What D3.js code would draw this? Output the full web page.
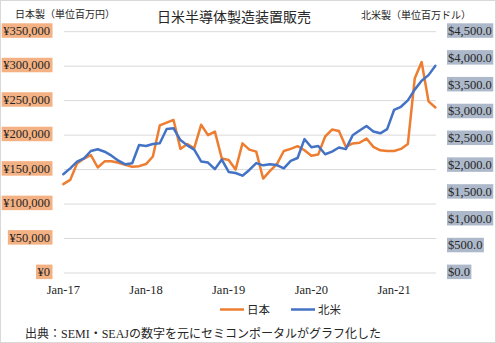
<!DOCTYPE html>
<html><head><meta charset="utf-8">
<script src="https://cdn.jsdelivr.net/npm/d3@7"></script>
<style>
html,body{margin:0;padding:0;background:#fff;}
svg{display:block;}
text{fill:#262626;}
</style></head>
<body>
<script>
// ---- data ----
const months = d3.timeMonth.range(new Date(2017,0,1), new Date(2021,7,1)); // Jan-17 .. Jul-21
const japan = [129000,135000,159000,166000,171000,153000,162000,162000,160000,157000,
  154000,155000,158000,169000,214000,218000,222000,180000,187000,181000,
  215000,200000,205000,166000,164000,150000,188000,179000,176000,137000,
  148000,158000,177000,180000,184000,178000,170000,172000,198000,208000,
  206000,183000,188000,189000,195000,183000,178000,177000,177000,180000,
  187000,282000,306000,249000,240000];
const northAmerica = [1841,1952,2076,2139,2275,2307,2262,2188,2095,2027,
  2046,2387,2369,2406,2419,2686,2699,2480,2380,2300,
  2080,2060,1937,2115,1885,1865,1815,1921,2050,2008,
  2030,2014,1952,2090,2145,2496,2345,2369,2215,2265,
  2340,2310,2568,2658,2742,2640,2605,2683,3040,3100,
  3220,3420,3585,3690,3865];
const leftTicks = [0,50000,100000,150000,200000,250000,300000,350000];
const rightTicks = [0,500,1000,1500,2000,2500,3000,3500,4000,4500];
const xTickMonths = [new Date(2017,0,1),new Date(2018,0,1),new Date(2019,0,1),new Date(2020,0,1),new Date(2021,0,1)];
const seriesNames = ["日本","北米"];
const title = "日米半導体製造装置販売";
const leftTitle = "日本製（単位百万円）";
const rightTitle = "北米製（単位百万ドル）";
const source = "出典：SEMI・SEAJの数字を元にセミコンポータルがグラフ化した";

// ---- layout ----
const W = 496, H = 343;
const serif = '"Liberation Serif","Noto Sans CJK JP",serif';
const cjk = '"Liberation Serif","Noto Sans CJK JP",sans-serif';
const svg = d3.select("body").append("svg").attr("width", W).attr("height", H);

svg.append("rect").attr("x",0.5).attr("y",0.5).attr("width",W-1).attr("height",H-1)
  .attr("fill","#fff").attr("stroke","#d9d9d9");

const x = d3.scalePoint().domain(months.map(d=>+d)).range([63.3, 435.4]);
const yL = d3.scaleLinear().domain([0,350000]).range([273, 31.7]);
const yR = d3.scaleLinear().domain([0,4500]).range([273, 31.7]);

// gridlines
svg.append("g").selectAll("line").data(leftTicks).join("line")
  .attr("x1",64).attr("x2",436).attr("y1",d=>yL(d)).attr("y2",d=>yL(d))
  .attr("stroke","#d9d9d9").attr("stroke-width",1);

// left axis labels
const yenFmt = d => "¥" + d3.format(",")(d);
const gL = svg.append("g");
leftTicks.forEach(t=>{
  const g = gL.append("g");
  const tx = g.append("text").attr("x",50).attr("y",yL(t)-0.8).attr("text-anchor","end")
    .attr("dominant-baseline","central").style("font-family",serif).style("font-size","12.5px").text(yenFmt(t));
  const b = tx.node().getBBox();
  g.insert("rect","text").attr("x",b.x-1.5).attr("y",yL(t)-8.4).attr("width",b.width+4).attr("height",14.5).attr("fill","#f4b183");
});
// right axis labels
const usdFmt = d => "$" + d3.format(",.1f")(d);
const gR = svg.append("g");
rightTicks.forEach(t=>{
  const g = gR.append("g");
  const tx = g.append("text").attr("x",448).attr("y",yR(t)-0.8).attr("text-anchor","start")
    .attr("dominant-baseline","central").style("font-family",serif).style("font-size","12.5px").text(usdFmt(t));
  const b = tx.node().getBBox();
  g.insert("rect","text").attr("x",b.x-1).attr("y",yR(t)-8.4).attr("width",b.width+2.5).attr("height",14.5).attr("fill","#adb9ca");
});

// x axis labels
const xFmt = d3.timeFormat("%b-%y");
svg.append("g").selectAll("text").data(xTickMonths).join("text")
  .attr("x",d=>x(+d)).attr("y",294).attr("text-anchor","middle")
  .style("font-family",serif).style("font-size","12.5px").text(d=>xFmt(d));

// lines
const lineJ = d3.line().x((d,i)=>x(+months[i])).y(d=>yL(d));
const lineN = d3.line().x((d,i)=>x(+months[i])).y(d=>yR(d));
svg.append("path").datum(japan).attr("d",lineJ).attr("fill","none")
  .attr("stroke","#ed7d31").attr("stroke-width",2.5).attr("stroke-linejoin","round").attr("stroke-linecap","round");
svg.append("path").datum(northAmerica).attr("d",lineN).attr("fill","none")
  .attr("stroke","#4472c4").attr("stroke-width",2.5).attr("stroke-linejoin","round").attr("stroke-linecap","round");

// titles
svg.append("text").attr("x",234).attr("y",17).attr("text-anchor","middle").attr("dominant-baseline","central")
  .style("font-family",cjk).style("font-size","14px").text(title);
svg.append("text").attr("x",15).attr("y",14).attr("dominant-baseline","central")
  .style("font-family",cjk).style("font-size","10px").text(leftTitle);
svg.append("text").attr("x",361).attr("y",15).attr("dominant-baseline","central")
  .style("font-family",cjk).style("font-size","10px").text(rightTitle);

// legend
const legend = [{name:seriesNames[0],color:"#ed7d31",x:220},{name:seriesNames[1],color:"#4472c4",x:291}];
legend.forEach(l=>{
  svg.append("line").attr("x1",l.x).attr("x2",l.x+24).attr("y1",309.5).attr("y2",309.5)
    .attr("stroke",l.color).attr("stroke-width",2.5);
  svg.append("text").attr("x",l.x+27).attr("y",310).attr("dominant-baseline","central")
    .style("font-family",cjk).style("font-size","11.5px").text(l.name);
});

// source
svg.append("text").attr("x",25).attr("y",334).attr("dominant-baseline","central")
  .style("font-family",cjk).style("font-size","12px").text(source);
</script>
</body></html>
